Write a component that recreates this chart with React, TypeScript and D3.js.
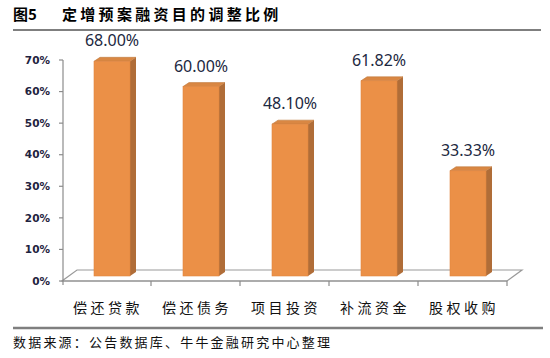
import * as d3 from "d3";

const categories = ["偿还贷款", "偿还债务", "项目投资", "补流资金", "股权收购"];
const values = [0.68, 0.6, 0.481, 0.6182, 0.3333];
const valueLabels = ["68.00%", "60.00%", "48.10%", "61.82%", "33.33%"];
const yTicks = [0, 0.1, 0.2, 0.3, 0.4, 0.5, 0.6, 0.7];

const titleNo = "图5";
const titleText = "定增预案融资目的调整比例";
const sourceText = "数据来源：公告数据库、牛牛金融研究中心整理";

const W = 550;
const H = 358;
const CJK = "'Noto Sans CJK SC', sans-serif";

export default function App() {
  const x = d3.scaleBand<string>().domain(categories).range([62, 507]);
  const y = d3.scaleLinear().domain([0, 0.7]).range([281, 60]);

  // floor depth and bar depth (fake 3d)
  const fdx = 15;
  const fdy = -11;
  const bdx = 6;
  const bdy = -4;
  const barOff = 32;
  const barW = 36;
  const shift = -5;

  const x0 = x.range()[0];
  const x1 = x.range()[1];
  const y0 = y(0);

  return (
    <svg
      width={W}
      height={H}
      style={{ position: "absolute", left: 0, top: 0, background: "#fff" }}
    >
      {/* title */}
      <text x={13} y={20} fontFamily={CJK} fontWeight="bold" fontSize={15} fill="#000">
        {titleNo}
      </text>
      <text
        x={62}
        y={20}
        fontFamily={CJK}
        fontWeight="bold"
        fontSize={15}
        letterSpacing={3.3}
        fill="#000"
      >
        {titleText}
      </text>
      <line x1={13} x2={541} y1={30} y2={30} stroke="#7f7f7f" strokeWidth={2} />

      {/* floor */}
      <path
        d={`M${x0},${y0}L${x1},${y0}L${x1 + fdx},${y0 + fdy}L${x0 + fdx},${y0 + fdy}Z`}
        fill="#fff"
        stroke="#9a9a9a"
        strokeWidth={1.2}
      />

      {/* y axis */}
      <line x1={63} x2={63} y1={y(0.7)} y2={y0 + 4} stroke="#8c8c8c" strokeWidth={1.2} />
      {yTicks.map((t) => (
        <g key={t}>
          <line x1={59} x2={63} y1={y(t)} y2={y(t)} stroke="#8c8c8c" strokeWidth={1.2} />
          <text
            x={50}
            y={y(t)}
            dy="0.36em"
            textAnchor="end"
            fontFamily="'DejaVu Sans', sans-serif"
            fontWeight="bold"
            fontSize={10.5}
            fill="#1f2340"
          >
            {d3.format(".0%")(t)}
          </text>
        </g>
      ))}

      {/* x axis */}
      <line x1={x0} x2={x1} y1={y0} y2={y0} stroke="#8c8c8c" strokeWidth={1.2} />
      {categories.map((c) => (
        <line
          key={"t" + c}
          x1={(x(c) as number) + x.bandwidth()}
          x2={(x(c) as number) + x.bandwidth()}
          y1={y0}
          y2={y0 + 5}
          stroke="#8c8c8c"
          strokeWidth={1.2}
        />
      ))}

      {/* bars */}
      {categories.map((c, i) => {
        const bx = (x(c) as number) + barOff;
        const top = y(values[i]) + shift;
        const bot = y0 + shift;
        const rx = bx + barW;
        return (
          <g key={c}>
            <path
              d={`M${rx},${top}L${rx + bdx},${top + bdy}L${rx + bdx},${bot + bdy}L${rx},${bot}Z`}
              fill="#b06d38"
            />
            <path
              d={`M${bx},${top}L${bx + bdx},${top + bdy}L${rx + bdx},${top + bdy}L${rx},${top}Z`}
              fill="#d98743"
              stroke="#c07a3e"
              strokeWidth={0.6}
            />
            <rect x={bx} y={top} width={barW} height={bot - top} fill="#eb9047" stroke="#e08540" strokeWidth={0.6} />
            <text
              x={bx + barW / 2}
              y={top - 15}
              textAnchor="middle"
              fontFamily="'Noto Sans', 'Open Sans', sans-serif"
              fontSize={16}
              fill="#1c2841"
            >
              {valueLabels[i]}
            </text>
          </g>
        );
      })}

      {/* category labels */}
      {categories.map((c) => (
        <text
          key={"l" + c}
          x={(x(c) as number) + x.bandwidth() / 2 + 1.5}
          y={313}
          textAnchor="middle"
          fontFamily={CJK}
          fontSize={14}
          letterSpacing={3.5}
          fill="#111"
        >
          {c}
        </text>
      ))}

      {/* source */}
      <line x1={13} x2={543} y1={328} y2={328} stroke="#7f7f7f" strokeWidth={2.5} />
      <text x={13} y={347} fontFamily={CJK} fontSize={13} letterSpacing={2.2} fill="#111">
        {sourceText}
      </text>
    </svg>
  );
}
